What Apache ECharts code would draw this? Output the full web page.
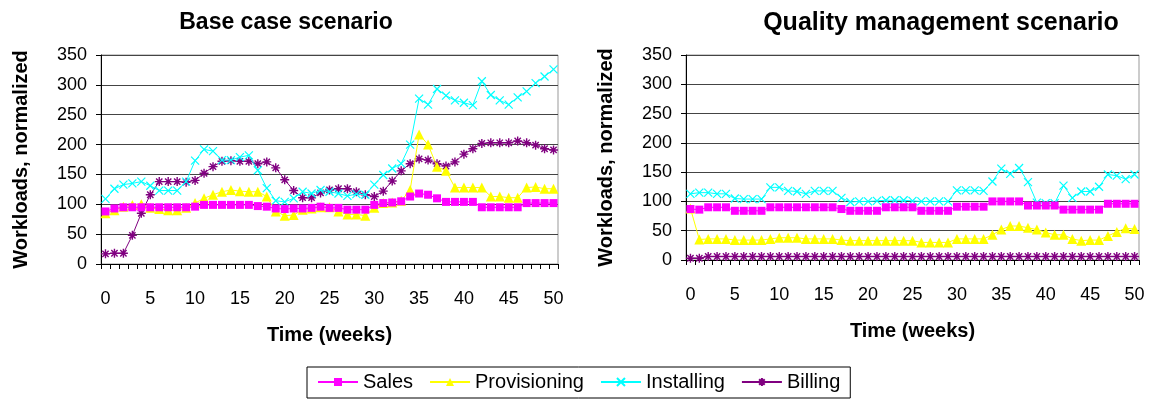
<!DOCTYPE html>
<html>
<head>
<meta charset="utf-8">
<script src="https://cdn.jsdelivr.net/npm/echarts@6/dist/echarts.min.js"></script>
<style>
  html, body { margin: 0; padding: 0; background: #fff; }
  #chart { width: 1156px; height: 400px; }
</style>
</head>
<body>
<div id="chart"></div>
<script>
// weeks 0..50
const weeks = [];
for (let i = 0; i <= 50; i++) weeks.push(String(i));

const seriesNames = ["Sales", "Provisioning", "Installing", "Billing"];

// Base case scenario
const baseSales = [88, 93, 95, 95, 95, 95, 95, 95, 95, 95, 96, 99, 99, 99, 99, 99, 99, 97, 96, 93,
  92, 93, 93, 94, 96, 94, 94, 91, 91, 91, 99, 102, 103, 105, 113, 118, 116, 110, 104, 104,
  104, 104, 95, 95, 95, 95, 95, 102, 102, 102, 102];
const baseProvisioning = [85, 90, 96, 99, 100, 94, 92, 90, 90, 94, 102, 110, 116, 121, 124, 122, 121, 121, 113, 88,
  81, 82, 91, 93, 95, 95, 88, 83, 83, 81, 94, 102, 103, 106, 124, 217, 200, 163, 156, 128,
  128, 128, 128, 113, 113, 111, 111, 128, 129, 126, 126];
const baseInstalling = [109, 126, 133, 135, 138, 131, 123, 123, 123, 138, 173, 192, 189, 174, 174, 179, 182, 157, 127, 106,
  104, 110, 121, 118, 124, 121, 118, 114, 117, 116, 133, 149, 160, 168, 200, 277, 267, 293, 282, 274,
  270, 266, 306, 283, 274, 267, 279, 289, 303, 314, 326];
const baseBilling = [17, 18, 18, 48, 85, 116, 138, 138, 138, 137, 140, 152, 163, 172, 173, 172, 172, 168, 171, 161,
  141, 123, 111, 111, 119, 124, 126, 126, 121, 116, 113, 122, 139, 156, 168, 176, 174, 168, 164, 171,
  184, 193, 202, 203, 203, 203, 206, 203, 199, 193, 191];

// Quality management scenario
const qualSales = [87, 86, 90, 90, 90, 84, 84, 84, 84, 90, 90, 90, 90, 90, 90, 90, 90, 87, 84, 84,
  84, 84, 90, 90, 90, 90, 84, 84, 84, 84, 91, 91, 91, 91, 100, 100, 100, 100, 93, 93,
  93, 93, 86, 86, 86, 86, 86, 96, 96, 96, 96];
const qualProvisioning = [88, 35, 36, 36, 36, 34, 34, 34, 34, 36, 38, 38, 38, 36, 36, 36, 36, 34, 33, 33,
  33, 33, 33, 33, 33, 33, 30, 30, 30, 30, 36, 36, 36, 36, 43, 52, 58, 58, 55, 52,
  47, 43, 43, 36, 33, 34, 34, 41, 48, 54, 53];
const qualInstalling = [113, 115, 115, 113, 113, 105, 104, 104, 104, 124, 124, 118, 117, 113, 118, 118, 118, 106, 99, 100,
  100, 101, 102, 102, 102, 101, 100, 100, 100, 100, 119, 119, 119, 118, 134, 156, 147, 157, 133, 98,
  97, 97, 127, 106, 117, 117, 125, 146, 144, 138, 146];
const qualBilling = [3, 3, 6, 6, 6, 6, 6, 6, 6, 6, 6, 6, 6, 6, 6, 6, 6, 6, 6, 6,
  6, 6, 6, 6, 6, 6, 6, 6, 6, 6, 6, 6, 6, 6, 6, 6, 6, 6, 6, 6,
  6, 6, 6, 6, 6, 6, 6, 6, 6, 6, 6];

const yTicks = [0, 50, 100, 150, 200, 250, 300, 350];

const FONT = "Liberation Sans";
const COLORS = ["#FF00FF", "#FFFF00", "#00FFFF", "#800080"];
const X_PATH = "path://M0 0L10 10M0 10L10 0";
const STAR_PATH = "path://M5 0L5 10M0 5L10 5M1.5 1.5L8.5 8.5M1.5 8.5L8.5 1.5";

const markerStyle = [
  { symbol: "rect", symbolSize: 8, itemStyle: { color: COLORS[0] } },
  { symbol: "triangle", symbolSize: 10, itemStyle: { color: COLORS[1] } },
  { symbol: X_PATH, symbolSize: 8, itemStyle: { color: "rgba(0,0,0,0)", borderColor: COLORS[2], borderWidth: 1.2 } },
  { symbol: STAR_PATH, symbolSize: 9, itemStyle: { color: "rgba(0,0,0,0)", borderColor: COLORS[3], borderWidth: 1.4 } },
];

const makeSeries = (idx, data) =>
  data.map((values, k) => ({
    name: seriesNames[k],
    type: "line",
    xAxisIndex: idx,
    yAxisIndex: idx,
    data: values,
    symbol: markerStyle[k].symbol,
    symbolSize: markerStyle[k].symbolSize,
    showAllSymbol: true,
    itemStyle: markerStyle[k].itemStyle,
    lineStyle: { color: COLORS[k], width: 1 },
    z: 2 + (3 - k),
    animation: false,
  }));

const xAxisOf = (idx) => ({
  type: "category",
  gridIndex: idx,
  data: weeks,
  boundaryGap: true,
  name: "Time (weeks)",
  nameLocation: "middle",
  nameGap: 61,
  nameTextStyle: { fontFamily: FONT, fontWeight: "bold", fontSize: 20, color: "#000" },
  axisLine: { lineStyle: { color: "#000", width: 1 } },
  axisTick: { show: true, interval: 0, length: 5, lineStyle: { color: "#000" } },
  axisLabel: { interval: 4, margin: 26, fontFamily: FONT, fontSize: 18, color: "#000" },
  splitLine: { show: false },
});

const yAxisOf = (idx) => ({
  type: "value",
  gridIndex: idx,
  min: yTicks[0],
  max: yTicks[yTicks.length - 1],
  interval: 50,
  name: "Workloads, normalized",
  nameLocation: "middle",
  nameRotate: 90,
  nameGap: 70,
  nameTextStyle: { fontFamily: FONT, fontWeight: "bold", fontSize: 20, color: "#000" },
  axisLine: { show: true, lineStyle: { color: "#000", width: 1 } },
  axisTick: { show: true, length: 5, lineStyle: { color: "#000" } },
  axisLabel: { margin: 14, fontFamily: FONT, fontSize: 18, color: "#000" },
  splitLine: { show: true, lineStyle: { color: "#444", width: 1 } },
});

const chart = echarts.init(document.getElementById("chart"), null, { renderer: "canvas" });

chart.setOption({
  backgroundColor: "#fff",
  animation: false,
  title: [
    {
      text: "Base case scenario",
      left: 281,
      top: 6,
      textAlign: "center",
      textStyle: { fontFamily: FONT, fontWeight: "bold", fontSize: 23, color: "#000" },
    },
    {
      text: "Quality management scenario",
      left: 936,
      top: 6,
      textAlign: "center",
      textStyle: { fontFamily: FONT, fontWeight: "bold", fontSize: 25, color: "#000" },
    },
  ],
  legend: {
    data: seriesNames,
    left: 307,
    top: 367,
    orient: "horizontal",
    itemWidth: 40,
    itemHeight: 10,
    itemGap: 16,
    padding: [5, 10, 6, 10],
    borderColor: "#000",
    borderWidth: 1,
    textStyle: { fontFamily: FONT, fontSize: 20, color: "#000" },
  },
  grid: [
    { left: 101, right: 598, top: 55, bottom: 136, show: true, borderColor: "#999", borderWidth: 1 },
    { left: 686, right: 17, top: 55, bottom: 140, show: true, borderColor: "#999", borderWidth: 1 },
  ],
  xAxis: [xAxisOf(0), xAxisOf(1)],
  yAxis: [yAxisOf(0), yAxisOf(1)],
  series: [
    ...makeSeries(0, [baseSales, baseProvisioning, baseInstalling, baseBilling]),
    ...makeSeries(1, [qualSales, qualProvisioning, qualInstalling, qualBilling]),
  ],
});
</script>
</body>
</html>
